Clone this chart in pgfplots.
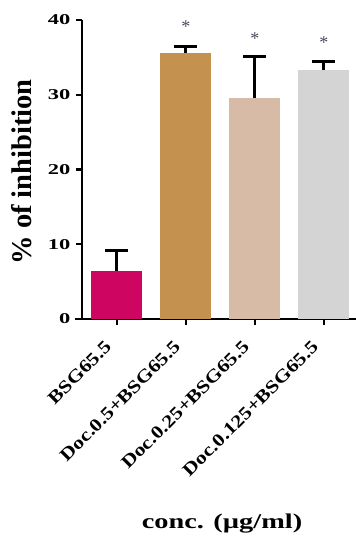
\documentclass[border=0pt]{standalone}
\usepackage{pgfplots}
\pgfplotsset{compat=1.18}
\usepackage{fontspec}
\setmainfont{Liberation Serif}
\newfontfamily\widefont{Liberation Serif}[FakeStretch=1.5]
\newfontfamily\catfont{Liberation Serif}[FakeStretch=1.2]
\newfontfamily\labfont{Liberation Serif}[FakeStretch=1.35]

\definecolor{barA}{RGB}{206,6,98}
\definecolor{barB}{RGB}{196,146,78}
\definecolor{barC}{RGB}{216,187,166}
\definecolor{barD}{RGB}{212,212,212}
\definecolor{starc}{RGB}{70,75,90}

\begin{document}
\begin{tikzpicture}
\path[use as bounding box] (0,0) rectangle (356pt,536pt);
\begin{axis}[
  at={(82pt,217pt)}, anchor=south west,
  scale only axis, width=274pt, height=299pt,
  xmin=-0.507, xmax=3.464, ymin=0, ymax=40,
  axis lines*=left,
  axis line style={line width=2.2pt, black},
  x axis line style={shorten <=-7pt},
  xtick={0,1,2,3},
  xticklabels={BSG65.5, Doc.0.5+BSG65.5, Doc.0.25+BSG65.5, Doc.0.125+BSG65.5},
  ytick={0,10,20,30,40},
  tick align=outside,
  major tick length=6pt,
  tick style={line width=2.2pt, black},
  y tick label style={font=\widefont\fontsize{15}{15}\selectfont\bfseries,
    /pgf/number format/assume math mode=true, xshift=-2pt},
  x tick label style={font=\catfont\fontsize{18}{18}\selectfont\bfseries,
    xshift=-8pt, yshift=-18pt, rotate=45, anchor=east, inner sep=1pt},
  ylabel={\% of inhibition},
  ylabel style={font=\fontsize{28.5}{28.5}\selectfont\bfseries,
    at={(axis description cs:-0.219,0.492)}, anchor=center},
  xlabel={conc. (µg/ml)},
  xlabel style={font=\labfont\fontsize{21}{21}\selectfont\bfseries,
    at={(axis description cs:0.511,-0.684)}, anchor=center},
  clip=false,
]
% one bar per treatment, each with its upper error bar
\pgfplotsset{
  mybar/.style={ybar, bar width=51pt, bar shift=0pt, draw=none, fill=#1,
    error bars/.cd, y dir=plus, y explicit,
    error bar style={line width=3pt, black},
    error mark options={rotate=90, line width=3pt, mark size=11.5pt, black}},
}
\addplot[mybar=barA] coordinates {(0,6.4) +- (0,2.8)};
\addplot[mybar=barB] coordinates {(1,35.6) +- (0,0.9)};
\addplot[mybar=barC] coordinates {(2,29.6) +- (0,5.5)};
\addplot[mybar=barD] coordinates {(3,33.3) +- (0,1.1)};

% significance markers
\node[font=\fontsize{18}{18}\selectfont, text=starc, anchor=base] at (axis cs:1,38.3) {*};
\node[font=\fontsize{18}{18}\selectfont, text=starc, anchor=base] at (axis cs:2,36.7) {*};
\node[font=\fontsize{18}{18}\selectfont, text=starc, anchor=base] at (axis cs:3,36.2) {*};
\end{axis}
\end{tikzpicture}
\end{document}
